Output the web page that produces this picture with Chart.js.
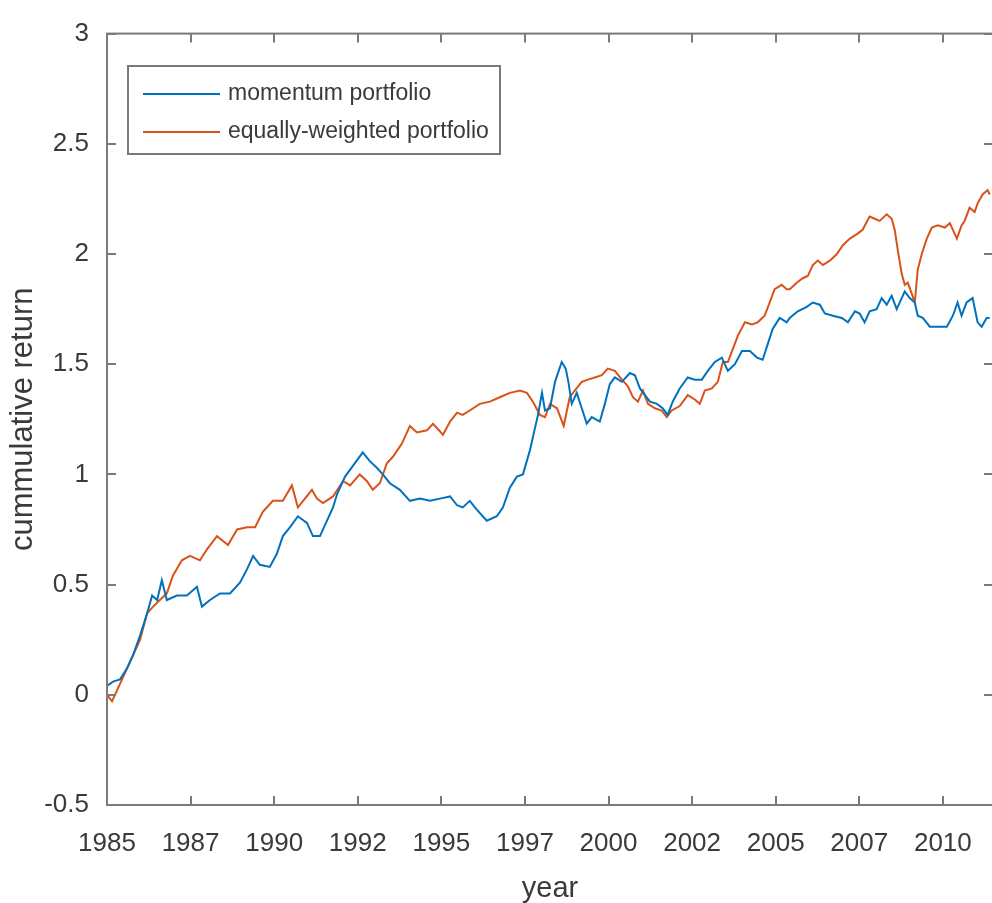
<!DOCTYPE html>
<html>
<head>
<meta charset="utf-8">
<script src="https://cdn.jsdelivr.net/npm/chart.js@4"></script>
<style>
html,body{margin:0;padding:0;overflow:hidden;background:#fff;}
#wrap{width:992px;height:903px;overflow:hidden;position:relative;}
canvas{display:block;}
</style>
</head>
<body>
<div id="wrap"><canvas id="c" width="996" height="903"></canvas></div>
<script>
const seriesLabels = ['momentum portfolio', 'equally-weighted portfolio'];

const momYears = [1985.00,1985.18,1985.39,1985.60,1985.78,1985.99,1986.20,1986.35,1986.50,1986.64,1986.79,1987.09,1987.39,1987.69,1987.84,1988.08,1988.38,1988.68,1988.98,1989.19,1989.37,1989.57,1989.87,1990.08,1990.26,1990.47,1990.71,1990.98,1991.16,1991.37,1991.58,1991.76,1991.88,1992.12,1992.36,1992.65,1992.86,1993.07,1993.25,1993.46,1993.76,1994.06,1994.36,1994.66,1994.96,1995.26,1995.47,1995.64,1995.85,1996.06,1996.36,1996.66,1996.84,1997.05,1997.26,1997.44,1997.65,1997.80,1997.89,1998.01,1998.10,1998.25,1998.40,1998.60,1998.72,1998.80,1998.90,1999.05,1999.20,1999.35,1999.50,1999.74,1999.89,2000.04,2000.19,2000.40,2000.64,2000.79,2000.94,2001.09,2001.24,2001.45,2001.62,2001.77,2001.92,2002.13,2002.37,2002.58,2002.79,2002.97,2003.18,2003.39,2003.57,2003.78,2003.99,2004.23,2004.44,2004.61,2004.76,2004.91,2005.12,2005.33,2005.42,2005.66,2005.93,2006.11,2006.32,2006.47,2006.71,2006.98,2007.16,2007.37,2007.51,2007.66,2007.81,2008.02,2008.17,2008.32,2008.47,2008.62,2008.77,2008.86,2009.01,2009.16,2009.25,2009.40,2009.61,2009.85,2010.12,2010.30,2010.44,2010.56,2010.71,2010.89,2011.04,2011.16,2011.31,2011.40];
const momValues = [0.04,0.06,0.07,0.12,0.18,0.27,0.37,0.45,0.43,0.52,0.43,0.45,0.45,0.49,0.40,0.43,0.46,0.46,0.51,0.57,0.63,0.59,0.58,0.64,0.72,0.76,0.81,0.78,0.72,0.72,0.79,0.85,0.91,0.99,1.04,1.10,1.06,1.03,1.00,0.96,0.93,0.88,0.89,0.88,0.89,0.90,0.86,0.85,0.88,0.84,0.79,0.81,0.85,0.94,0.99,1.00,1.11,1.21,1.27,1.37,1.29,1.30,1.42,1.51,1.48,1.42,1.32,1.37,1.30,1.23,1.26,1.24,1.32,1.41,1.44,1.42,1.46,1.45,1.39,1.36,1.33,1.32,1.30,1.27,1.33,1.39,1.44,1.43,1.43,1.47,1.51,1.53,1.47,1.50,1.56,1.56,1.53,1.52,1.59,1.66,1.71,1.69,1.71,1.74,1.76,1.78,1.77,1.73,1.72,1.71,1.69,1.74,1.73,1.69,1.74,1.75,1.80,1.77,1.81,1.75,1.80,1.83,1.80,1.78,1.72,1.71,1.67,1.67,1.67,1.72,1.78,1.72,1.78,1.80,1.69,1.67,1.71,1.71];

const eqYears = [1985.00,1985.15,1985.33,1985.60,1985.78,1985.99,1986.20,1986.38,1986.58,1986.79,1986.97,1987.24,1987.48,1987.78,1987.99,1988.29,1988.62,1988.89,1989.19,1989.43,1989.66,1989.96,1990.26,1990.53,1990.71,1990.92,1991.13,1991.28,1991.46,1991.76,1992.06,1992.27,1992.56,1992.77,1992.95,1993.16,1993.37,1993.55,1993.82,1994.06,1994.27,1994.57,1994.75,1995.05,1995.26,1995.47,1995.64,1995.85,1996.15,1996.45,1996.75,1997.05,1997.35,1997.56,1997.74,1997.95,1998.10,1998.25,1998.46,1998.66,1998.84,1998.99,1999.20,1999.38,1999.59,1999.80,1999.98,2000.19,2000.40,2000.58,2000.73,2000.88,2001.03,2001.18,2001.39,2001.59,2001.74,2001.89,2002.13,2002.37,2002.58,2002.73,2002.88,2003.09,2003.27,2003.42,2003.57,2003.72,2003.87,2004.08,2004.29,2004.46,2004.67,2004.82,2004.97,2005.18,2005.33,2005.42,2005.63,2005.81,2005.96,2006.11,2006.26,2006.41,2006.62,2006.83,2007.01,2007.22,2007.43,2007.60,2007.81,2007.96,2008.11,2008.32,2008.47,2008.56,2008.65,2008.77,2008.86,2008.95,2009.07,2009.16,2009.25,2009.37,2009.52,2009.67,2009.85,2010.06,2010.21,2010.42,2010.56,2010.65,2010.80,2010.95,2011.04,2011.19,2011.34,2011.40];
const eqValues = [0.00,-0.03,0.03,0.12,0.18,0.25,0.37,0.40,0.43,0.46,0.54,0.61,0.63,0.61,0.66,0.72,0.68,0.75,0.76,0.76,0.83,0.88,0.88,0.95,0.85,0.89,0.93,0.89,0.87,0.90,0.97,0.95,1.00,0.97,0.93,0.96,1.05,1.08,1.14,1.22,1.19,1.20,1.23,1.18,1.24,1.28,1.27,1.29,1.32,1.33,1.35,1.37,1.38,1.37,1.33,1.27,1.26,1.32,1.30,1.22,1.35,1.38,1.42,1.43,1.44,1.45,1.48,1.47,1.43,1.40,1.35,1.33,1.38,1.32,1.30,1.29,1.26,1.29,1.31,1.36,1.34,1.32,1.38,1.39,1.42,1.51,1.51,1.57,1.63,1.69,1.68,1.69,1.72,1.78,1.84,1.86,1.84,1.84,1.87,1.89,1.90,1.95,1.97,1.95,1.97,2.00,2.04,2.07,2.09,2.11,2.17,2.16,2.15,2.18,2.16,2.11,2.02,1.91,1.86,1.87,1.82,1.78,1.93,2.00,2.07,2.12,2.13,2.12,2.14,2.07,2.13,2.15,2.21,2.19,2.23,2.27,2.29,2.27];

const xTickValues = [1985,1987.5,1990,1992.5,1995,1997.5,2000,2002.5,2005,2007.5,2010];
const xTickLabels = ['1985','1987','1990','1992','1995','1997','2000','2002','2005','2007','2010'];
const yTickValues = [-0.5,0,0.5,1,1.5,2,2.5,3];
const yTickLabels = ['-0.5','0','0.5','1','1.5','2','2.5','3'];

const seriesColors = ['#0072BD', '#D95319'];
const axisColor = '#7a7a7a';
const textColor = '#3a3a3a';
const FONT = '"Liberation Sans", Arial, Helvetica, sans-serif';

const boxPlugin = {
  id: 'matlabBox',
  afterDatasetsDraw(chart) {
    const {ctx, chartArea: a, scales} = chart;
    ctx.save();
    ctx.strokeStyle = axisColor;
    ctx.lineWidth = 2;
    ctx.strokeRect(a.left, a.top, a.right - a.left, a.bottom - a.top);
    const tl = 9;
    ctx.beginPath();
    xTickValues.forEach(v => {
      const px = Math.round(scales.x.getPixelForValue(v));
      ctx.moveTo(px, a.bottom); ctx.lineTo(px, a.bottom - tl);
      ctx.moveTo(px, a.top); ctx.lineTo(px, a.top + tl);
    });
    yTickValues.forEach(v => {
      const py = Math.round(scales.y.getPixelForValue(v));
      ctx.moveTo(a.left, py); ctx.lineTo(a.left + tl, py);
      ctx.moveTo(a.right, py); ctx.lineTo(a.right - tl, py);
    });
    ctx.stroke();
    // legend box
    const lx = 128, ly = 66, lw = 372, lh = 88;
    ctx.fillStyle = '#ffffff';
    ctx.fillRect(lx, ly, lw, lh);
    ctx.strokeRect(lx, ly, lw, lh);
    const rows = [94, 132];
    chart.data.datasets.forEach((ds, i) => {
      ctx.strokeStyle = ds.borderColor;
      ctx.lineWidth = 2;
      ctx.beginPath();
      ctx.moveTo(143, rows[i]); ctx.lineTo(220, rows[i]);
      ctx.stroke();
      ctx.fillStyle = textColor;
      ctx.font = '23px ' + FONT;
      ctx.textBaseline = 'middle';
      ctx.textAlign = 'left';
      ctx.fillText(ds.label, 228, rows[i]);
    });
    ctx.restore();
  }
};

const toPoints = (xs, ys) => xs.map((x, i) => ({x: x, y: ys[i]}));

new Chart(document.getElementById('c'), {
  type: 'line',
  data: {
    datasets: [
      {label: seriesLabels[0], data: toPoints(momYears, momValues), borderColor: seriesColors[0], borderWidth: 2, pointRadius: 0, tension: 0, fill: false},
      {label: seriesLabels[1], data: toPoints(eqYears, eqValues), borderColor: seriesColors[1], borderWidth: 2, pointRadius: 0, tension: 0, fill: false}
    ]
  },
  options: {
    responsive: false,
    animation: false,
    devicePixelRatio: 1,
    layout: {padding: {top: 23, right: 3, bottom: 0, left: 0}},
    plugins: {legend: {display: false}, tooltip: {enabled: false}},
    scales: {
      x: {
        type: 'linear',
        min: 1985,
        max: 2011.5,
        grid: {display: false, drawTicks: false},
        border: {display: false},
        afterBuildTicks: s => { s.ticks = xTickValues.map(v => ({value: v})); },
        afterFit: s => { s.height = 98; },
        ticks: {
          autoSkip: false,
          maxRotation: 0,
          padding: 23,
          color: textColor,
          font: {family: FONT, size: 26},
          callback: (v, i) => xTickLabels[i]
        },
        title: {display: true, text: 'year', color: textColor, font: {family: FONT, size: 29, lineHeight: 1}, padding: {top: 0, bottom: 0}}
      },
      y: {
        type: 'linear',
        min: -0.5,
        max: 3,
        grid: {display: false, drawTicks: false},
        border: {display: false},
        afterBuildTicks: s => { s.ticks = yTickValues.map(v => ({value: v})); },
        afterFit: s => { s.width = 107; },
        ticks: {
          autoSkip: false,
          padding: 18,
          color: textColor,
          font: {family: FONT, size: 26},
          callback: (v, i) => yTickLabels[i]
        },
        title: {display: true, text: 'cummulative return', color: textColor, font: {family: FONT, size: 31}, padding: {top: 5, bottom: 0}}
      }
    }
  },
  plugins: [boxPlugin]
});
</script>
</body>
</html>
